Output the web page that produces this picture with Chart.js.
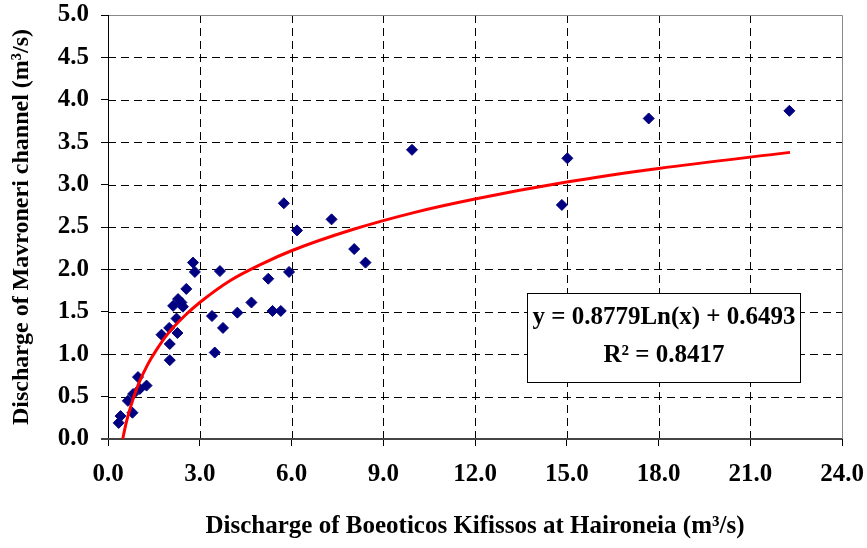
<!DOCTYPE html>
<html>
<head>
<meta charset="utf-8">
<script src="https://cdn.jsdelivr.net/npm/chart.js@4"></script>
<style>
body { margin: 0; background: #fff; }
#wrap { width: 867px; height: 548px; }
</style>
</head>
<body>
<div id="wrap"><canvas id="chart" width="867" height="548"></canvas></div>
<script>
// observed discharges (m3/s)
const kifissos = [0.35, 0.41, 0.65, 0.80, 0.82, 0.98, 1.04, 1.26, 1.75, 2.00, 2.02, 2.02, 2.13, 2.24, 2.27, 2.29, 2.40, 2.45, 2.56, 2.78, 2.84, 3.40, 3.49, 3.66, 3.76, 4.23, 4.69, 5.24, 5.38, 5.65, 5.75, 5.92, 6.18, 7.31, 8.05, 8.42, 9.94, 14.84, 15.02, 17.68, 22.28];
const mavroneri = [0.19, 0.27, 0.45, 0.31, 0.53, 0.73, 0.59, 0.63, 1.23, 1.31, 1.12, 0.93, 1.57, 1.42, 1.25, 1.65, 1.61, 1.56, 1.77, 2.08, 1.97, 1.45, 1.02, 1.98, 1.31, 1.49, 1.61, 1.89, 1.51, 1.51, 2.78, 1.97, 2.46, 2.59, 2.24, 2.08, 3.41, 2.76, 3.31, 3.78, 3.87];

// log trendline
const trendX = [0.48, 0.6, 0.8, 1.0, 1.3, 1.6, 2.0, 2.5, 3.0, 4.0, 5.0, 6.0, 8.0, 10.0, 12.0, 15.0, 18.0, 22.3];
const trendY = [0.00, 0.20, 0.45, 0.65, 0.88, 1.06, 1.26, 1.45, 1.61, 1.87, 2.06, 2.22, 2.47, 2.67, 2.83, 3.03, 3.19, 3.38];

const xTicks = [0, 3, 6, 9, 12, 15, 18, 21, 24];
const yTicks = [0, 0.5, 1, 1.5, 2, 2.5, 3, 3.5, 4, 4.5, 5];

const equation = "y = 0.8779Ln(x) + 0.6493";
const rSquared = "R\u00B2 = 0.8417";

const serif = "'Liberation Serif', 'Times New Roman', serif";

const frame =
{
    id: "frame",
    beforeDatasetsDraw(chart)
    {
        const ctx = chart.ctx;
        const a = chart.chartArea;
        const x = chart.scales.x;
        const y = chart.scales.y;

        ctx.save();
        ctx.lineWidth = 1;
        ctx.strokeStyle = "#000";
        ctx.setLineDash([8, 5]);

        xTicks.slice(1, -1).forEach(v =>
        {
            const px = Math.round(x.getPixelForValue(v)) + 0.5;
            ctx.beginPath();
            ctx.moveTo(px, a.top);
            ctx.lineTo(px, a.bottom);
            ctx.stroke();
        });

        yTicks.slice(1, -1).forEach(v =>
        {
            const py = Math.round(y.getPixelForValue(v)) + 0.5;
            ctx.beginPath();
            ctx.moveTo(a.left, py);
            ctx.lineTo(a.right, py);
            ctx.stroke();
        });

        ctx.setLineDash([]);

        // top and right frame
        ctx.strokeStyle = "#888";
        ctx.beginPath();
        ctx.moveTo(a.left, Math.round(a.top) + 0.5);
        ctx.lineTo(Math.round(a.right) + 0.5, Math.round(a.top) + 0.5);
        ctx.lineTo(Math.round(a.right) + 0.5, a.bottom);
        ctx.stroke();

        // axes
        ctx.strokeStyle = "#000";
        ctx.beginPath();
        ctx.moveTo(Math.round(a.left) + 0.5, a.top);
        ctx.lineTo(Math.round(a.left) + 0.5, a.bottom);
        ctx.stroke();

        ctx.strokeStyle = "#444";
        ctx.lineWidth = 2;
        ctx.beginPath();
        ctx.moveTo(a.left - 7, Math.round(a.bottom));
        ctx.lineTo(a.right, Math.round(a.bottom));
        ctx.stroke();

        ctx.restore();
    },
    afterDraw(chart)
    {
        const ctx = chart.ctx;

        ctx.save();
        ctx.fillStyle = "#fff";
        ctx.fillRect(527, 293, 274, 90);
        ctx.strokeStyle = "#000";
        ctx.lineWidth = 1;
        ctx.strokeRect(527.5, 293.5, 273, 89);

        ctx.fillStyle = "#000";
        ctx.font = "bold 25px " + serif;
        ctx.textAlign = "center";
        ctx.textBaseline = "middle";
        ctx.fillText(equation, 664, 318);
        ctx.fillText(rSquared, 664, 356);
        ctx.restore();
    }
};

const points = kifissos.map((v, i) => ({ x: v, y: mavroneri[i] }));
const trend = trendX.map((v, i) => ({ x: v, y: trendY[i] }));

new Chart(
    document.getElementById("chart"),
    {
        type: "scatter",
        data:
        {
            datasets: [
                {
                    label: "trend",
                    type: "line",
                    data: trend,
                    borderColor: "#ff0000",
                    borderWidth: 3,
                    pointRadius: 0,
                    fill: false,
                    cubicInterpolationMode: "monotone"
                },
                {
                    label: "observed",
                    data: points,
                    pointStyle: "rectRot",
                    pointRadius: 5.5,
                    backgroundColor: "#000080",
                    borderColor: "#000080",
                    borderWidth: 1
                }
            ]
        },
        options:
        {
            responsive: false,
            animation: false,
            layout: { padding: { top: 15, right: 25, left: 0, bottom: 0 } },
            plugins:
            {
                legend: { display: false },
                tooltip: { enabled: false }
            },
            scales:
            {
                x:
                {
                    type: "linear",
                    min: 0,
                    max: 24,
                    afterBuildTicks: s => { s.ticks = xTicks.map(v => ({ value: v })); },
                    afterFit: s =>
                    {
                        s.height = 109;
                        s.paddingLeft = 0;
                        s.paddingRight = 0;
                    },
                    border: { display: false },
                    grid: { drawOnChartArea: false, tickLength: 7, color: "#000" },
                    ticks:
                    {
                        callback: v => Number(v).toFixed(1),
                        color: "#000",
                        padding: 14,
                        maxRotation: 0,
                        font: { family: serif, size: 25, weight: "bold" }
                    },
                    title:
                    {
                        display: true,
                        text: "Discharge of Boeoticos Kifissos at Haironeia (m\u00B3/s)",
                        color: "#000",
                        padding: { top: 0, bottom: 6 },
                        font: { family: serif, size: 25, weight: "bold" }
                    }
                },
                y:
                {
                    min: 0,
                    max: 5,
                    afterBuildTicks: s => { s.ticks = yTicks.map(v => ({ value: v })); },
                    afterFit: s =>
                    {
                        s.width = 108;
                        s.paddingTop = 0;
                        s.paddingBottom = 0;
                    },
                    border: { display: false },
                    grid: { drawOnChartArea: false, tickLength: 7, color: "#000" },
                    ticks:
                    {
                        callback: v => Number(v).toFixed(1),
                        color: "#000",
                        padding: 12,
                        font: { family: serif, size: 25, weight: "bold" }
                    },
                    title:
                    {
                        display: true,
                        text: "Discharge of Mavroneri channel (m\u00B3/s)",
                        color: "#000",
                        padding: { top: 7, bottom: 0 },
                        font: { family: serif, size: 24, weight: "bold" }
                    }
                }
            }
        },
        plugins: [frame]
    }
);
</script>
</body>
</html>
